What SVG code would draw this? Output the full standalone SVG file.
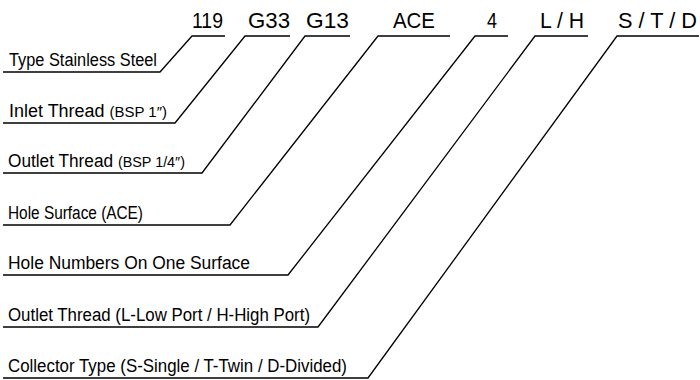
<svg xmlns="http://www.w3.org/2000/svg" width="700" height="380" viewBox="0 0 700 380">
<style>
.code{font-family:"Liberation Sans",Arial,sans-serif;font-size:22px;fill:#000}
.lbl{font-family:"Liberation Sans",Arial,sans-serif;font-size:18px;fill:#000}
.sm{font-size:15px}
.ln{fill:none;stroke:#000;stroke-width:1.3;stroke-linejoin:miter}
</style>
<rect width="700" height="380" fill="#fff"/>
<g id="connectors">
<polyline class="ln" points="225,36 192,36 160,72 3,72"/>
<polyline class="ln" points="290,36 245,36 175,123 3,123"/>
<polyline class="ln" points="350,36 305,36 202,173 3,173"/>
<polyline class="ln" points="450,36 378,36 230,225 3,225"/>
<polyline class="ln" points="508,36 475,36 288,275 3,275"/>
<polyline class="ln" points="588,36 535,36 318,327 3,327"/>
<polyline class="ln" points="699,36 617,36 368,378 3,378"/>
</g>
<g id="code-119"><text class="code" x="192" y="28" textLength="31" lengthAdjust="spacingAndGlyphs">119</text></g>
<g id="code-G33"><text class="code" x="248" y="28" textLength="42" lengthAdjust="spacingAndGlyphs">G33</text></g>
<g id="code-G13"><text class="code" x="306" y="28" textLength="43" lengthAdjust="spacingAndGlyphs">G13</text></g>
<g id="code-ACE"><text class="code" x="393" y="28" textLength="42" lengthAdjust="spacingAndGlyphs">ACE</text></g>
<g id="code-4"><text class="code" x="487" y="28" textLength="10" lengthAdjust="spacingAndGlyphs">4</text></g>
<g id="code-LH"><text class="code" x="540" y="28" textLength="44" lengthAdjust="spacingAndGlyphs">L / H</text></g>
<g id="code-STD"><text class="code" x="618" y="28" textLength="79" lengthAdjust="spacingAndGlyphs">S / T / D</text></g>
<g id="label-type"><text class="lbl" x="9" y="66" textLength="148" lengthAdjust="spacingAndGlyphs">Type Stainless Steel</text></g>
<g id="label-inlet"><text class="lbl" x="9" y="117" textLength="158" lengthAdjust="spacingAndGlyphs">Inlet Thread <tspan class="sm">(BSP 1″)</tspan></text></g>
<g id="label-outlet"><text class="lbl" x="8" y="167" textLength="177" lengthAdjust="spacingAndGlyphs">Outlet Thread <tspan class="sm">(BSP 1/4″)</tspan></text></g>
<g id="label-hole-surface"><text class="lbl" x="8" y="219" textLength="135" lengthAdjust="spacingAndGlyphs">Hole Surface (ACE)</text></g>
<g id="label-hole-numbers"><text class="lbl" x="8" y="269" textLength="242" lengthAdjust="spacingAndGlyphs">Hole Numbers On One Surface</text></g>
<g id="label-outlet-port"><text class="lbl" x="8" y="321" textLength="302" lengthAdjust="spacingAndGlyphs">Outlet Thread (L-Low Port / H-High Port)</text></g>
<g id="label-collector"><text class="lbl" x="8" y="372" textLength="339" lengthAdjust="spacingAndGlyphs">Collector Type (S-Single / T-Twin / D-Divided)</text></g>
</svg>
